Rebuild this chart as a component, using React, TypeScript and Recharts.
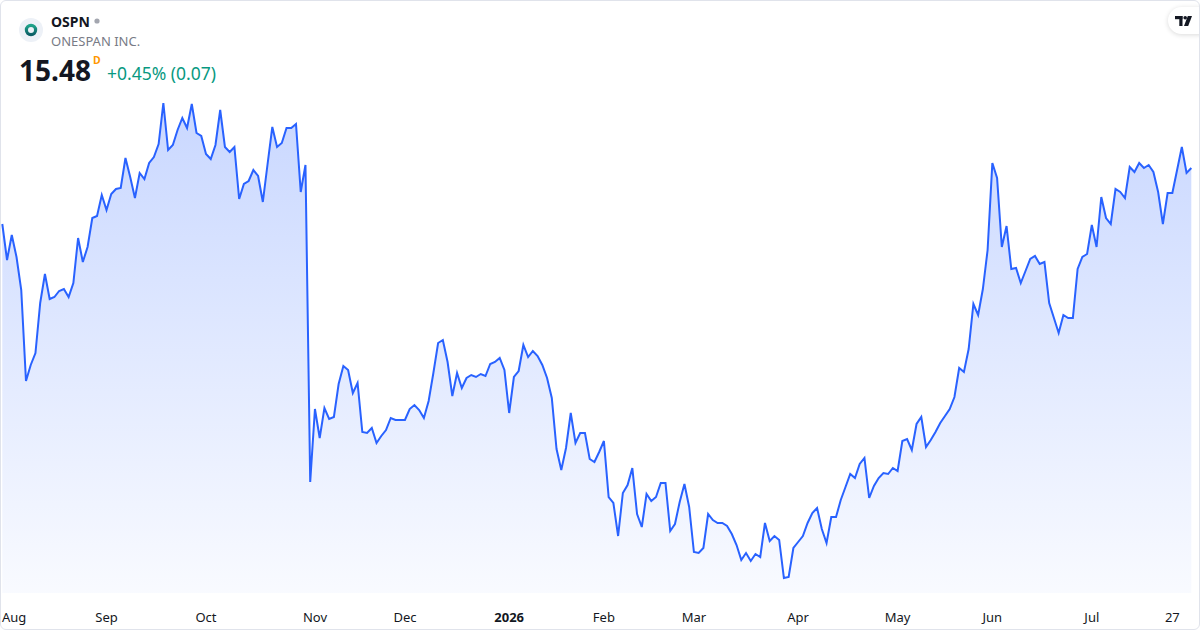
import React from 'react';
import { AreaChart, Area, XAxis, YAxis } from 'recharts';

// Daily closes, Jul 31 2025 .. Jul 31 2026
const pricesAugOct = [
  14.92, 14.56, 14.81, 14.59, 14.26, 13.35, 13.51, 13.63, 14.13, 14.42,
  14.17, 14.19, 14.25, 14.27, 14.19, 14.33, 14.78, 14.54, 14.69, 14.98,
  15.0, 15.21, 15.06, 15.22, 15.27, 15.28, 15.58, 15.39, 15.18, 15.43,
  15.37, 15.53, 15.59, 15.72, 16.13, 15.66, 15.71, 15.86, 15.98, 15.88,
  16.12, 15.83, 15.8, 15.62, 15.57, 15.71, 16.06, 15.69, 15.64, 15.69,
  15.17, 15.32, 15.35, 15.46, 15.4, 15.14, 15.52, 15.89, 15.69, 15.73,
  15.88, 15.88, 15.92, 15.24, 15.51, 12.34,
];
const pricesNovJan = [
  13.07, 12.78, 13.08, 12.97, 12.99, 13.32, 13.5, 13.46, 13.23, 13.33,
  12.84, 12.83, 12.88, 12.73, 12.8, 12.86, 12.98, 12.96, 12.96, 12.96,
  13.07, 13.11, 13.06, 12.98, 13.15, 13.43, 13.73, 13.76, 13.54, 13.2,
  13.43, 13.28, 13.38, 13.41, 13.39, 13.42, 13.4, 13.52, 13.54, 13.58,
  13.46, 13.03, 13.39, 13.45, 13.71, 13.59, 13.65, 13.6, 13.51, 13.38,
  13.18, 12.67, 12.46, 12.68, 13.03, 12.73, 12.83, 12.83, 12.57, 12.54,
  12.64,
];
const pricesFebApr = [
  12.75, 12.19, 12.13, 11.8, 12.23, 12.31, 12.48, 12.02, 11.89, 12.22,
  12.15, 12.19, 12.33, 12.33, 11.85, 11.92, 12.14, 12.32, 12.09, 11.64,
  11.63, 11.68, 12.02, 11.96, 11.93, 11.93, 11.9, 11.82, 11.71, 11.56,
  11.63, 11.55, 11.62, 11.59, 11.93, 11.75, 11.8, 11.76, 11.38, 11.39,
  11.68, 11.74, 11.8, 11.93, 12.03, 12.08, 11.87, 11.73, 11.99, 11.99,
  12.16, 12.29, 12.42, 12.38, 12.52, 12.58, 12.18, 12.3, 12.38, 12.43,
  12.42, 12.48,
];
const pricesMayJul = [
  12.45, 12.75, 12.77, 12.66, 12.92, 12.99, 12.69, 12.76, 12.84, 12.93,
  13.0, 13.07, 13.19, 13.48, 13.44, 13.67, 14.12, 14.01, 14.27, 14.66,
  15.53, 15.38, 14.69, 14.9, 14.47, 14.48, 14.33, 14.45, 14.57, 14.6,
  14.52, 14.54, 14.13, 13.98, 13.83, 14.01, 13.98, 13.98, 14.47, 14.59,
  14.62, 14.91, 14.69, 15.19, 14.98, 14.92, 15.27, 15.24, 15.18, 15.49,
  15.44, 15.53, 15.48, 15.51, 15.44, 15.24, 14.92, 15.23, 15.23, 15.46,
  15.69, 15.43, 15.48,
];

const tickIndex = [1, 22, 43, 66, 85, 107, 127, 146, 168, 189, 209, 230, 247];
const tickLabels = ['Aug', 'Sep', 'Oct', 'Nov', 'Dec', '2026', 'Feb', 'Mar', 'Apr', 'May', 'Jun', 'Jul', '27'];

const allPrices = [...pricesAugOct, ...pricesNovJan, ...pricesFebApr, ...pricesMayJul];
const data = allPrices.map((p, i) => ({ i, price: p }));

const FONT = '"Noto Sans", "Open Sans", sans-serif';

const Tick = (props: any) => {
  const { x, payload } = props;
  const k = tickIndex.indexOf(payload.value);
  const label = tickLabels[k];
  const first = k === 0;
  return (
    <text
      x={first ? 2 : x}
      y={622}
      textAnchor={first ? 'start' : 'middle'}
      fontSize={13}
      fill="#131722"
      fontWeight={label === '2026' ? 700 : 400}
      fontFamily={FONT}
    >
      {label}
    </text>
  );
};

export default function App() {
  return (
    <div
      style={{
        position: 'absolute',
        left: 0,
        top: 0,
        width: 1200,
        height: 630,
        overflow: 'hidden',
        background: '#ffffff',
        fontFamily: FONT,
      }}
    >
      <AreaChart
        width={1200}
        height={630}
        data={data}
        margin={{ top: 0, right: 8.7, bottom: 7, left: 2.3 }}
      >
        <defs>
          <linearGradient id="areaFill" gradientUnits="userSpaceOnUse" x1="0" y1="0" x2="0" y2="593">
            <stop offset="0" stopColor="#2962ff" stopOpacity={0.3} />
            <stop offset="1" stopColor="#2962ff" stopOpacity={0.03} />
          </linearGradient>
        </defs>
        <XAxis
          dataKey="i"
          type="number"
          domain={[0, allPrices.length - 1]}
          ticks={tickIndex}
          interval={0}
          height={30}
          axisLine={false}
          tickLine={false}
          tick={<Tick />}
        />
        <YAxis hide domain={[11.23, 17.16]} />
        <Area
          type="linear"
          dataKey="price"
          stroke="#2962ff"
          strokeWidth={2}
          fill="url(#areaFill)"
          fillOpacity={1}
          dot={false}
          activeDot={false}
          isAnimationActive={false}
        />
      </AreaChart>

      {/* header */}
      <svg style={{ position: 'absolute', left: 0, top: 0 }} width={300} height={100}>
        <circle cx={31} cy={30} r={12} fill="#edf1f7" />
        <defs>
          <linearGradient id="ring" x1="0" y1="0" x2="0" y2="1">
            <stop offset="0" stopColor="#1fa38a" />
            <stop offset="1" stopColor="#0b5f66" />
          </linearGradient>
        </defs>
        <circle cx={31} cy={30} r={4.6} fill="none" stroke="url(#ring)" strokeWidth={3.2} />
        <text x={51} y={26.5} fontSize={14} fontWeight={700} fill="#131722" fontFamily={FONT}>
          OSPN
        </text>
        <circle cx={97} cy={21} r={2.6} fill="#a3a6af" />
        <text x={51} y={45.5} fontSize={13} fill="#787b86" fontFamily={FONT}>
          ONESPAN INC.
        </text>
        <text x={19} y={81} fontSize={28} fontWeight={700} fill="#131722" fontFamily={FONT}>
          15.48
        </text>
        <text x={93} y={64} fontSize={10.5} fontWeight={700} fill="#ff9800" fontFamily={FONT}>
          D
        </text>
        <text x={107} y={80} fontSize={17.5} fill="#089981" fontFamily={FONT}>
          +0.45% (0.07)
        </text>
      </svg>

      {/* TradingView badge */}
      <div
        style={{
          position: 'absolute',
          left: 1168,
          top: 7,
          width: 44,
          height: 27,
          borderRadius: 14,
          background: '#ffffff',
          boxShadow: '0 1px 5px rgba(0,0,0,0.15)',
        }}
      >
        <svg width={44} height={27} style={{ position: 'absolute', left: 0, top: 0 }}>
          <g transform="translate(7,9)">
            <rect x={0} y={0} width={7.5} height={3.2} fill="#131722" />
            <rect x={4.3} y={0} width={3.2} height={10} fill="#131722" />
            <circle cx={10.2} cy={1.8} r={1.8} fill="#131722" />
            <polygon points="12.8,0 17,0 13.2,10 9,10" fill="#131722" />
          </g>
        </svg>
      </div>

      {/* frame */}
      <div
        style={{
          position: 'absolute',
          left: 0,
          top: 0,
          width: 1200,
          height: 630,
          boxSizing: 'border-box',
          border: '1px solid #e0e3eb',
          borderRadius: 6,
          pointerEvents: 'none',
        }}
      />
    </div>
  );
}
